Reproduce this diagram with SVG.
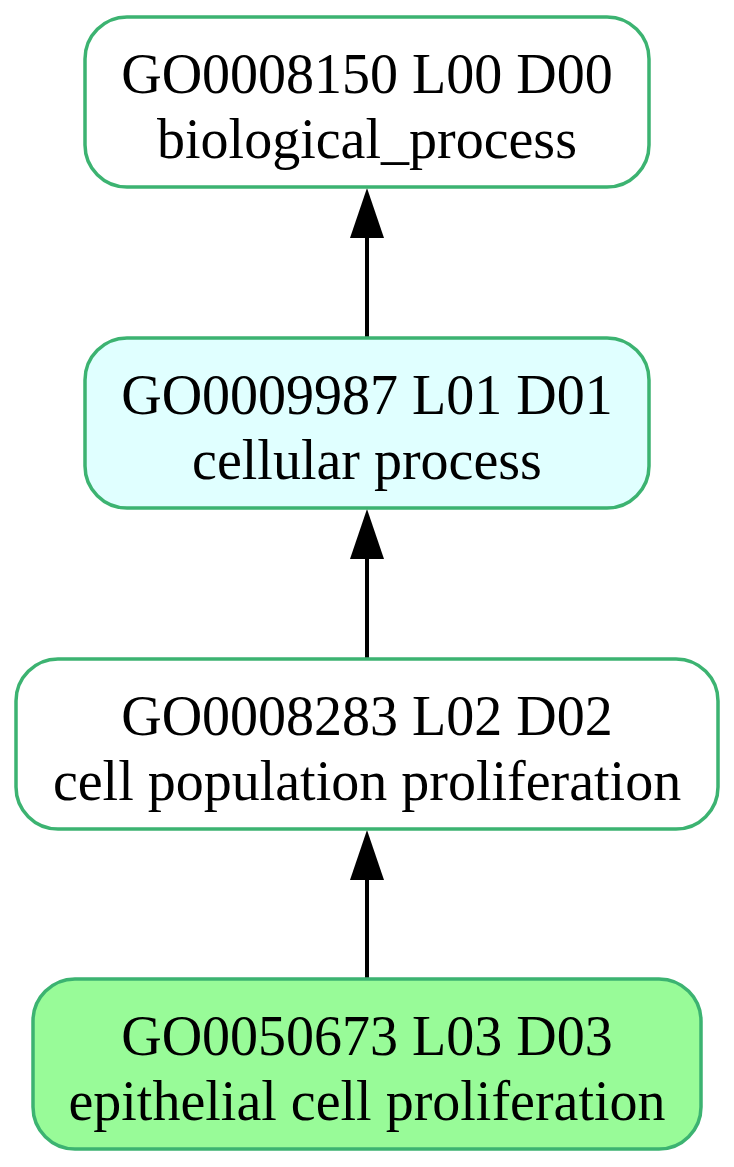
<svg xmlns="http://www.w3.org/2000/svg" width="734" height="1167" viewBox="0 0 734 1167">
<defs>
<style>
.n{stroke:#3cb371;stroke-width:3.5}
.t{font-family:"Liberation Serif","Times New Roman",serif;font-size:56px;text-anchor:middle;fill:#000}
.e{stroke:#000;stroke-width:4;fill:none}
</style>
</defs>
<rect width="734" height="1167" fill="#fff"/>
<g id="connectors">
<line class="e" x1="367" y1="337" x2="367" y2="236"/>
<polygon points="350,238 384,238 367,188" fill="#000"/>
<line class="e" x1="367" y1="658" x2="367" y2="557"/>
<polygon points="350,559 384,559 367,509" fill="#000"/>
<line class="e" x1="367" y1="978" x2="367" y2="878"/>
<polygon points="350,880 384,880 367,830" fill="#000"/>
</g>
<g id="GO0008150">
<rect class="n" x="85" y="17" width="564" height="170" rx="42" fill="#fff"/>
<text class="t" x="367" y="93">GO0008150 L00 D00</text>
<text class="t" x="367" y="158">biological_process</text>
</g>
<g id="GO0009987">
<rect class="n" x="85" y="338" width="564" height="170" rx="42" fill="#e0ffff"/>
<text class="t" x="367" y="414">GO0009987 L01 D01</text>
<text class="t" x="367" y="479">cellular process</text>
</g>
<g id="GO0008283">
<rect class="n" x="16" y="659" width="702" height="170" rx="42" fill="#fff"/>
<text class="t" x="367" y="735">GO0008283 L02 D02</text>
<text class="t" x="367" y="800">cell population proliferation</text>
</g>
<g id="GO0050673">
<rect class="n" x="33" y="979" width="668" height="170" rx="42" fill="#98fb98"/>
<text class="t" x="367" y="1055">GO0050673 L03 D03</text>
<text class="t" x="367" y="1120">epithelial cell proliferation</text>
</g>
</svg>
